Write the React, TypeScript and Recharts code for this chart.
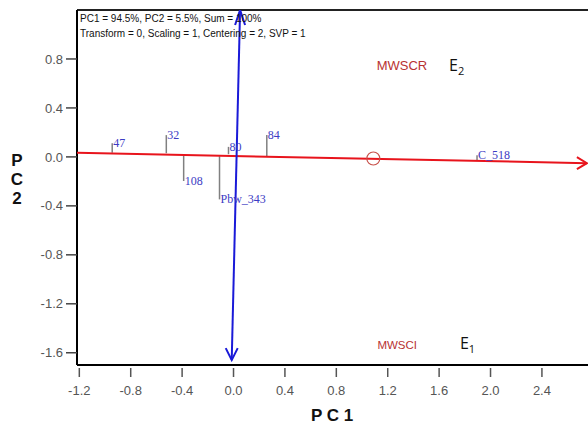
import { ScatterChart, Scatter, XAxis, YAxis, ReferenceLine } from 'recharts';

// genotype scores (PC1, PC2) and the foot of each leader on the AEC axis
const genotypes = ['47', '32', '108', '80', 'Pbw_343', '84', 'C_518'];
const pc1Scores = [-0.944, -0.523, -0.388, -0.039, -0.109, 0.259, 1.895];
const pc2Scores = [0.112, 0.178, -0.197, 0.082, -0.347, 0.178, 0.014];
const aecFoot = [0.033, 0.03, 0.008, 0.022, 0.006, 0.0, -0.026];

// AEC abscissa (red) and ordinate (blue)
const aecX = [-1.218, 2.75];
const aecY = [0.033, -0.051];
const orthoX = [-0.014, 0.051];
const orthoY = [-1.66, 1.2];
const avgEnv = [{ x: 1.088, y: -0.013 }];

// environments
const envNames = ['MWSCR', 'MWSCI'];
const envX = [1.114, 1.12];
const envY = [0.749, -1.538];
const envCodes = ['2', '1'];
const codeX = [1.677, 1.762];
const codeY = [0.749, -1.522];

const xTicks = [-1.2, -0.8, -0.4, 0.0, 0.4, 0.8, 1.2, 1.6, 2.0, 2.4];
const yTicks = [-1.6, -1.2, -0.8, -0.4, 0.0, 0.4, 0.8];

const aecLine = aecX.map((x, i) => ({ x, y: aecY[i] }));
const orthoLine = orthoX.map((x, i) => ({ x, y: orthoY[i] }));
const genoPoints = genotypes.map((name, i) => ({ name, x: pc1Scores[i], y: pc2Scores[i] }));
const leaders = genotypes.map((_, i) => [
  { x: pc1Scores[i], y: pc2Scores[i] },
  { x: pc1Scores[i], y: aecFoot[i] },
]);
const envPoints = envNames.map((name, i) => ({ name, x: envX[i], y: envY[i] }));
const codePoints = envCodes.map((code, i) => ({ code, x: codeX[i], y: codeY[i] }));

const RED = '#e8141c';
const BLUE = '#1a1ad8';
const SANS = '"Liberation Sans", Arial, sans-serif';

const noDot = () => <g />;

const XTick = (props: any) => {
  const { x, y, payload } = props;
  return (
    <g>
      <line x1={x} x2={x} y1={y + 3} y2={y + 12} stroke="#555" strokeWidth={1.5} />
      <text x={x} y={y + 25} textAnchor="middle" dominantBaseline="central" fontSize={13} fill="#555" fontFamily={SANS}>
        {Number(payload.value).toFixed(1)}
      </text>
    </g>
  );
};

export default function App() {
  return (
    <div style={{ position: 'absolute', left: 0, top: 0, width: 588, height: 427, overflow: 'hidden', background: '#fff' }}>
      <ScatterChart width={600} height={427} margin={{ top: 10, right: 5, bottom: 0, left: 0 }}>
        <XAxis
          type="number"
          dataKey="x"
          domain={[-1.218, 2.813]}
          allowDataOverflow
          ticks={xTicks}
          interval={0}
          height={62}
          tickSize={0}
          tickMargin={0}
          tickLine={false}
          tick={<XTick />}
          axisLine={{ stroke: '#000', strokeWidth: 2 }}
        />
        <YAxis
          type="number"
          dataKey="y"
          domain={[-1.7, 1.2]}
          allowDataOverflow
          ticks={yTicks}
          interval={0}
          width={77}
          tickSize={11}
          tickMargin={3}
          tickFormatter={(v: number) => v.toFixed(1)}
          tick={{ fill: '#555', fontSize: 13, fontFamily: SANS }}
          tickLine={{ stroke: '#444', strokeWidth: 1.5 }}
          axisLine={{ stroke: '#000', strokeWidth: 2 }}
        />
        <ReferenceLine y={1.2} stroke="#222" strokeWidth={2} />

        {leaders.map((seg, i) => (
          <Scatter key={'ld' + i} data={seg} line={{ stroke: '#808080', strokeWidth: 1.5 }} shape={noDot} isAnimationActive={false} />
        ))}

        <Scatter data={aecLine} line={{ stroke: RED, strokeWidth: 2 }} shape={noDot} isAnimationActive={false} />
        <Scatter
          data={[aecLine[1]]}
          isAnimationActive={false}
          shape={(p: any) => (
            <path d={`M${p.cx - 10},${p.cy - 6} L${p.cx},${p.cy} L${p.cx - 10},${p.cy + 6}`} stroke={RED} strokeWidth={2} fill="none" />
          )}
        />
        <Scatter
          data={avgEnv}
          isAnimationActive={false}
          shape={(p: any) => <circle cx={p.cx} cy={p.cy} r={6.5} stroke="#c8504a" strokeWidth={1.2} fill="none" />}
        />

        <Scatter data={orthoLine} line={{ stroke: BLUE, strokeWidth: 2 }} shape={noDot} isAnimationActive={false} />
        <Scatter
          data={[orthoLine[1]]}
          isAnimationActive={false}
          shape={(p: any) => (
            <path d={`M${p.cx - 5},${p.cy + 15} L${p.cx},${p.cy} L${p.cx + 5},${p.cy + 15}`} stroke={BLUE} strokeWidth={2} fill="none" />
          )}
        />
        <Scatter
          data={[orthoLine[0]]}
          isAnimationActive={false}
          shape={(p: any) => (
            <path d={`M${p.cx - 6},${p.cy - 12} L${p.cx},${p.cy} L${p.cx + 6},${p.cy - 12}`} stroke={BLUE} strokeWidth={2} fill="none" />
          )}
        />

        <Scatter
          data={genoPoints}
          isAnimationActive={false}
          shape={(p: any) => (
            <text x={p.cx + 1} y={p.cy} dominantBaseline="central" fontSize={12} fill="#3c3cc4" fontFamily='"Liberation Serif", "Times New Roman", serif'>
              {p.payload.name}
            </text>
          )}
        />

        <Scatter
          data={envPoints}
          isAnimationActive={false}
          shape={(p: any) => (
            <text x={p.cx} y={p.cy} dominantBaseline="central" fontSize={p.payload.name === 'MWSCR' ? 13 : 11.5} fill="#b83232" fontFamily={SANS}>
              {p.payload.name}
            </text>
          )}
        />
        <Scatter
          data={codePoints}
          isAnimationActive={false}
          shape={(p: any) => (
            <text x={p.cx} y={p.cy} dominantBaseline="central" fontSize={16} fill="#111" fontFamily='"Open Sans", sans-serif'>
              E
              <tspan fontSize={11} dy={5}>{p.payload.code}</tspan>
            </text>
          )}
        />
      </ScatterChart>

      <div style={{ position: 'absolute', left: 80, top: 11, fontFamily: SANS, fontSize: 10, lineHeight: '15px', color: '#111', whiteSpace: 'pre' }}>
        {'PC1 = 94.5%, PC2 = 5.5%, Sum = 100%\nTransform = 0, Scaling = 1, Centering = 2, SVP = 1'}
      </div>
      <div style={{ position: 'absolute', left: 8, top: 151, width: 18, textAlign: 'center', fontFamily: SANS, fontWeight: 'bold', fontSize: 17, lineHeight: '19px', color: '#111' }}>
        P<br />C<br />2
      </div>
      <div style={{ position: 'absolute', left: 282, top: 406, width: 100, textAlign: 'center', fontFamily: SANS, fontWeight: 'bold', fontSize: 17, lineHeight: '20px', color: '#111', whiteSpace: 'pre' }}>
        {'P C 1'}
      </div>
    </div>
  );
}
